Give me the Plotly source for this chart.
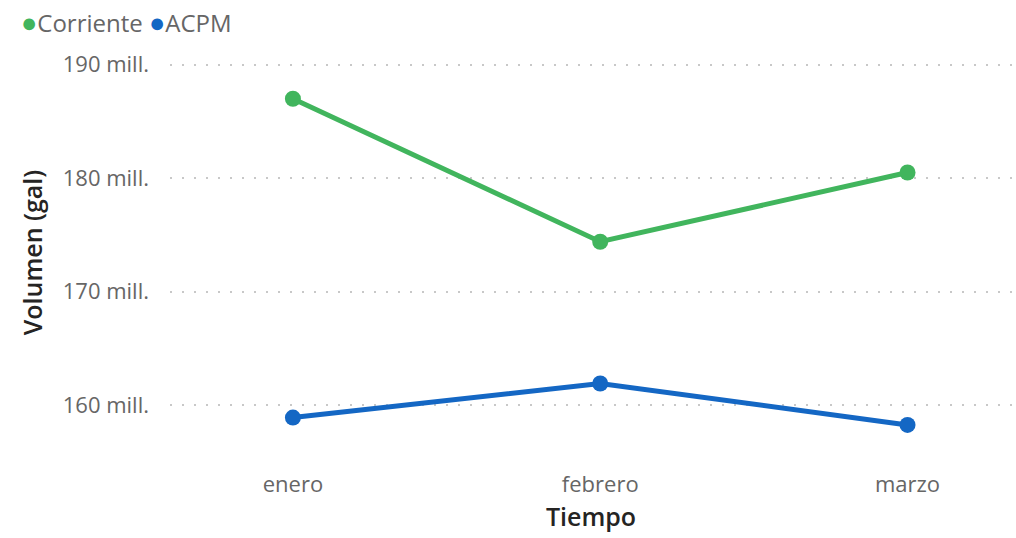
import plotly.graph_objects as go

months = ["enero", "febrero", "marzo"]
corriente = [187.0, 174.4, 180.5]
acpm = [158.9, 161.9, 158.25]
series_names = ["Corriente", "ACPM"]
series_colors = ["#41B55D", "#1467C4"]
tick_vals = [160, 170, 180, 190]
tick_text = ["160 mill.", "170 mill.", "180 mill.", "190 mill."]

fig = go.Figure()
for name, vals, col in zip(series_names, [corriente, acpm], series_colors):
    fig.add_trace(go.Scatter(
        x=months, y=vals, mode="lines+markers", name=name,
        line=dict(color=col, width=5),
        marker=dict(color=col, size=16),
        showlegend=False,
    ))

# legend drawn as a single text line with coloured dots
legend_text = " ".join(
    f"<span style='color:{c};font-size:27px'>●</span>{n}"
    for n, c in zip(series_names, series_colors)
)

fig.update_layout(
    width=1016, height=538,
    margin=dict(l=170, r=4, t=50, b=83, autoexpand=False),
    plot_bgcolor="white", paper_bgcolor="white",
    font=dict(family="Open Sans", color="#666666", size=22),
    showlegend=False,
    annotations=[dict(
        text=legend_text, xref="paper", yref="paper",
        x=-0.179, xanchor="left", y=1.0716, yanchor="middle",
        showarrow=False, font=dict(size=24, color="#666666"),
    )],
    xaxis=dict(
        type="category", range=[-0.4, 2.34], showgrid=False, zeroline=False,
        showline=False, ticks="", ticklabelstandoff=14, automargin=False,
        title=dict(text="Tiempo", font=dict(size=25, color="#252423", family="Open Sans", weight=600), standoff=11),
    ),
    yaxis=dict(
        range=[155.6, 191.3], tickvals=tick_vals, ticktext=tick_text,
        showgrid=True, gridcolor="#C8C8C8", gridwidth=2, griddash="2px,10px",
        zeroline=False, showline=False, ticks="", ticklabelstandoff=20, automargin=False,
        title=dict(text="Volumen (gal)", font=dict(size=25, color="#252423", family="Open Sans", weight=600), standoff=12),
    ),
)

fig.write_html("out.html", config={"displayModeBar": False},
               post_script="document.body.style.margin='0';")
